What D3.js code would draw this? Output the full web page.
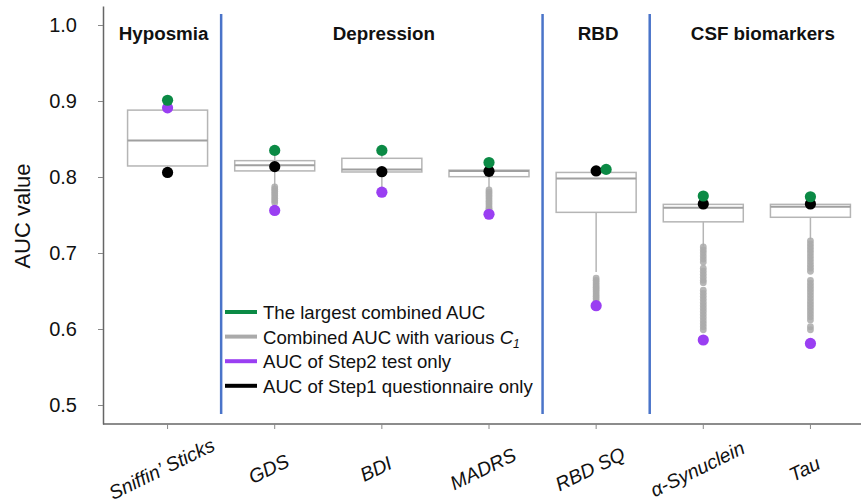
<!DOCTYPE html>
<html>
<head>
<meta charset="utf-8">
<script src="https://cdn.jsdelivr.net/npm/d3@7"></script>
<style>
  body { margin: 0; background: #fff; }
  svg { font-family: "Liberation Sans", Arial, sans-serif; }
</style>
</head>
<body>
<svg id="chart" width="861" height="503"></svg>
<script>
// data
const categories = ["Sniffin’ Sticks", "GDS", "BDI", "MADRS", "RBD SQ", "α-Synuclein", "Tau"];
const groups = ["Hyposmia", "Depression", "RBD", "CSF biomarkers"];
const groupFirst = [0, 1, 4, 5];
const groupLast = [0, 3, 4, 6];

const q1 = [0.8145, 0.808, 0.8066, 0.8004, 0.7535, 0.741, 0.747];
const median = [0.848, 0.8154, 0.810, 0.808, 0.798, 0.7597, 0.761];
const q3 = [0.888, 0.8215, 0.8246, 0.809, 0.806, 0.764, 0.764];
const whiskerLow = [0.8145, 0.787, 0.785, 0.786, 0.675, 0.709, 0.718];
const whiskerHigh = [0.888, 0.835, 0.835, 0.819, 0.810, 0.775, 0.774];

const largestAUC = [0.901, 0.835, 0.835, 0.819, 0.810, 0.775, 0.774];
const step2Only = [0.891, 0.756, 0.780, 0.751, 0.6307, 0.5855, 0.581];
const step1Only = [0.806, 0.8136, 0.807, 0.8075, 0.808, 0.7645, 0.7645];

const outliers = [
  [],
  [0.787, 0.784, 0.781, 0.778, 0.775, 0.772, 0.769, 0.766],
  [],
  [0.783, 0.780, 0.777, 0.774, 0.771, 0.768, 0.765, 0.762, 0.759, 0.757],
  [0.667, 0.664, 0.661, 0.658, 0.655, 0.652, 0.649, 0.646, 0.643, 0.640, 0.637],
  [0.708, 0.704, 0.700, 0.696, 0.692, 0.688, 0.680, 0.676, 0.672, 0.668, 0.664, 0.661,
   0.651, 0.647, 0.643, 0.639, 0.635, 0.631, 0.627, 0.623, 0.619, 0.615, 0.611, 0.607, 0.603, 0.599],
  [0.716, 0.712, 0.708, 0.704, 0.700, 0.696, 0.692, 0.688, 0.684, 0.680, 0.676,
   0.664, 0.660, 0.656, 0.652, 0.648, 0.644, 0.640, 0.636, 0.632, 0.628, 0.624, 0.620, 0.616, 0.612, 0.603, 0.599]
];

const yTicks = [0.5, 0.6, 0.7, 0.8, 0.9, 1.0];
const legendLabels = ["The largest combined AUC", "Combined AUC with various ", "AUC of Step2 test only", "AUC of Step1 questionnaire only"];

const GREEN = "#0b8a45", PURPLE = "#9a3ff2", GRAY = "#aaaaaa", BLUE = "#4a74c9";
const legendColors = [GREEN, GRAY, PURPLE, "#000"];

const svg = d3.select("#chart");

const x = d3.scaleBand().domain(categories).range([114, 864]);
const y = d3.scaleLinear().domain([0.475, 1.025]).range([424, 6]);
const cx = i => x(categories[i]) + x.bandwidth() / 2;
const boxW = 80;

// axes
const yAxis = svg.append("g").attr("transform", "translate(103,0)")
  .call(d3.axisLeft(y).tickValues(yTicks).tickFormat(d3.format(".1f")).tickSize(5).tickSizeOuter(0));
yAxis.select(".domain").attr("stroke", "#666").attr("stroke-width", 1.5);
yAxis.selectAll(".tick line").attr("stroke", "#888");
yAxis.selectAll(".tick text").attr("font-size", 20).attr("fill", "#111").attr("x", -26);

const xAxis = svg.append("g").attr("transform", "translate(0,424)")
  .call(d3.axisBottom(x).tickSize(5).tickSizeOuter(0));
xAxis.select(".domain").attr("d", "M103,0H861").attr("stroke", "#666").attr("stroke-width", 1.5);
xAxis.selectAll(".tick line").attr("stroke", "#888");
xAxis.selectAll(".tick text")
  .attr("font-size", 19.5).attr("font-style", "italic").attr("fill", "#111")
  .attr("text-anchor", "middle").attr("y", 0).attr("dy", 0)
  .attr("transform", "translate(-3,51) rotate(-26)");

svg.append("text")
  .attr("transform", "translate(30,216) rotate(-90)")
  .attr("text-anchor", "middle").attr("font-size", 22).attr("fill", "#111")
  .text("AUC value");

// group separators and titles
for (let g = 1; g < groups.length; g++) {
  const sx = x(categories[groupFirst[g]]);
  svg.append("line").attr("x1", sx).attr("x2", sx).attr("y1", 14).attr("y2", 414)
    .attr("stroke", BLUE).attr("stroke-width", 2.5);
}
groups.forEach((name, g) => {
  svg.append("text")
    .attr("x", (cx(groupFirst[g]) + cx(groupLast[g])) / 2 + (g === 3 ? 6 : g === 0 ? -4 : 2))
    .attr("y", 40).attr("text-anchor", "middle")
    .attr("font-size", 18.8).attr("font-weight", "bold").attr("fill", "#111")
    .text(name);
});

// boxes
const boxes = svg.append("g");
categories.forEach((c, i) => {
  const g = boxes.append("g");
  g.append("line").attr("x1", cx(i)).attr("x2", cx(i))
    .attr("y1", y(whiskerLow[i])).attr("y2", y(whiskerHigh[i]))
    .attr("stroke", "#b5b5b5").attr("stroke-width", 1.5);
  g.append("rect").attr("x", cx(i) - boxW / 2).attr("width", boxW)
    .attr("y", y(q3[i])).attr("height", y(q1[i]) - y(q3[i]))
    .attr("fill", "#fff").attr("stroke", "#b5b5b5").attr("stroke-width", 1.5);
  g.append("line").attr("x1", cx(i) - boxW / 2).attr("x2", cx(i) + boxW / 2)
    .attr("y1", y(median[i])).attr("y2", y(median[i]))
    .attr("stroke", "#a0a0a0").attr("stroke-width", 2);
  g.selectAll("circle.out").data(outliers[i]).join("circle")
    .attr("cx", cx(i)).attr("cy", d => y(d)).attr("r", 3.4)
    .attr("fill", GRAY).attr("fill-opacity", 0.85);
});

// highlighted points
const dots = svg.append("g");
categories.forEach((c, i) => {
  dots.append("circle").attr("cx", cx(i)).attr("cy", y(step2Only[i])).attr("r", 5.6).attr("fill", PURPLE);
  dots.append("circle").attr("cx", cx(i)).attr("cy", y(step1Only[i])).attr("r", 5.6).attr("fill", "#000");
  // when the green point sits on the black one, it is drawn beside it
  const overlap = Math.abs(y(largestAUC[i]) - y(step1Only[i])) < 4;
  dots.append("circle").attr("cx", cx(i) + (overlap ? 10 : 0)).attr("cy", y(largestAUC[i]))
    .attr("r", 5.6).attr("fill", GREEN);
});

// legend
const legend = svg.append("g").attr("transform", "translate(225,312)");
legendLabels.forEach((t, k) => {
  const ly = k * 24.6;
  legend.append("line").attr("x1", 0).attr("x2", 32).attr("y1", ly).attr("y2", ly)
    .attr("stroke", legendColors[k]).attr("stroke-width", 4);
  const txt = legend.append("text").attr("x", 38).attr("y", ly + 7)
    .attr("font-size", 18.6).attr("fill", "#111").text(t);
  if (k === 1) {
    txt.append("tspan").attr("font-style", "italic").text("C");
    txt.append("tspan").attr("font-style", "italic").attr("font-size", 12).attr("dy", 4).text("1");
  }
});
</script>
</body>
</html>
